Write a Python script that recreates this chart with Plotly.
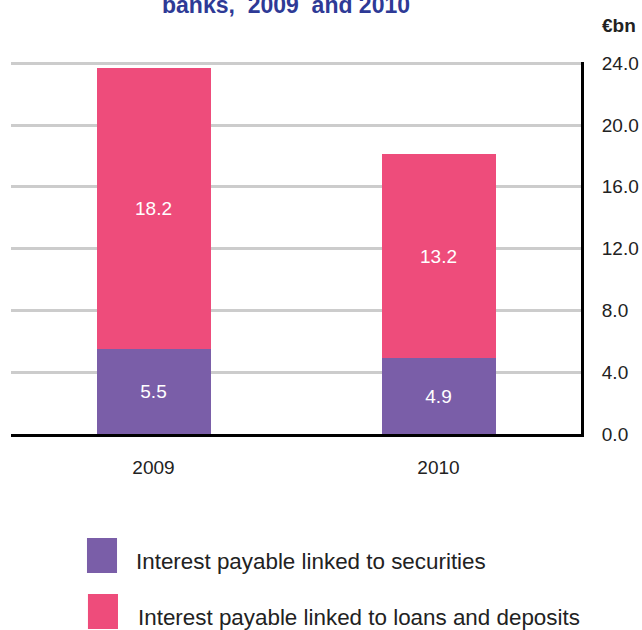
import plotly.graph_objects as go

# Interest payable by banks, in € billion
years = ["2009", "2010"]
securities = [5.5, 4.9]
loans_deposits = [18.2, 13.2]
series_names = [
    "Interest payable linked to securities",
    "Interest payable linked to loans and deposits",
]
y_ticks = [0, 4, 8, 12, 16, 20, 24]

PURPLE = "#7A5EA8"
PINK = "#EE4C7B"
FONT = "Liberation Sans, Arial, sans-serif"

fig = go.Figure()
for vals, color, name in [(securities, PURPLE, series_names[0]),
                          (loans_deposits, PINK, series_names[1])]:
    fig.add_trace(go.Bar(
        x=years, y=vals, name=name,
        marker=dict(color=color, line=dict(width=0)),
        text=[f"{v:.1f}" for v in vals],
        textposition="inside", insidetextanchor="middle",
        textfont=dict(color="white", size=19, family=FONT),
        showlegend=False,
    ))

fig.update_layout(
    barmode="stack",
    bargap=0.6,
    width=642, height=630,
    margin=dict(l=11, r=61, t=62, b=196),
    paper_bgcolor="white", plot_bgcolor="white",
    font=dict(family=FONT, size=19, color="#222222"),
    xaxis=dict(
        showline=True, linecolor="black", linewidth=3,
        showgrid=False, ticks="", ticklabelstandoff=14,
        tickfont=dict(size=19, color="#222222"), automargin=False,
    ),
    yaxis=dict(
        side="right", range=[0, 24.08], tickvals=y_ticks, tickformat=".1f",
        showline=True, linecolor="black", linewidth=3,
        showgrid=True, gridcolor="#cccccc", gridwidth=3,
        zeroline=False, ticks="", ticklabelstandoff=14,
        tickfont=dict(size=19, color="#222222"), automargin=False,
    ),
)

# Heading (second line of the chart title)
fig.add_annotation(
    text="banks,\u00a0 2009\u00a0 and 2010",
    xref="paper", yref="paper", x=0.483, y=1, xanchor="center", yanchor="bottom",
    yshift=42, showarrow=False,
    font=dict(size=23, color="#2E3A96", family=FONT, weight="bold"),
)
# Unit label above the axis
fig.add_annotation(
    text="<b>€bn</b>", xref="paper", yref="paper", x=1.033, y=1,
    xanchor="left", yanchor="bottom", yshift=24, showarrow=False,
    font=dict(size=19, color="#222222", family=FONT),
)

# Legend drawn as large swatches with labels
legend_rows = [
    # swatch x0, x1, y0, y1, label x, label y
    (0.1333, 0.1860, -0.3737, -0.2796, 0.2150, -0.3414),
    (0.1350, 0.1877, -0.5242, -0.4301, 0.2190, -0.4946),
]
for (x0, x1, y0, y1, xt, yt), color, name in zip(legend_rows, [PURPLE, PINK], series_names):
    fig.add_shape(type="rect", xref="paper", yref="paper",
                  x0=x0, x1=x1, y0=y0, y1=y1,
                  fillcolor=color, line=dict(width=0))
    fig.add_annotation(text=name, xref="paper", yref="paper", x=xt, y=yt,
                       xanchor="left", yanchor="middle", showarrow=False,
                       font=dict(size=22.4, color="#222222", family=FONT))

fig.write_html("out.html")
